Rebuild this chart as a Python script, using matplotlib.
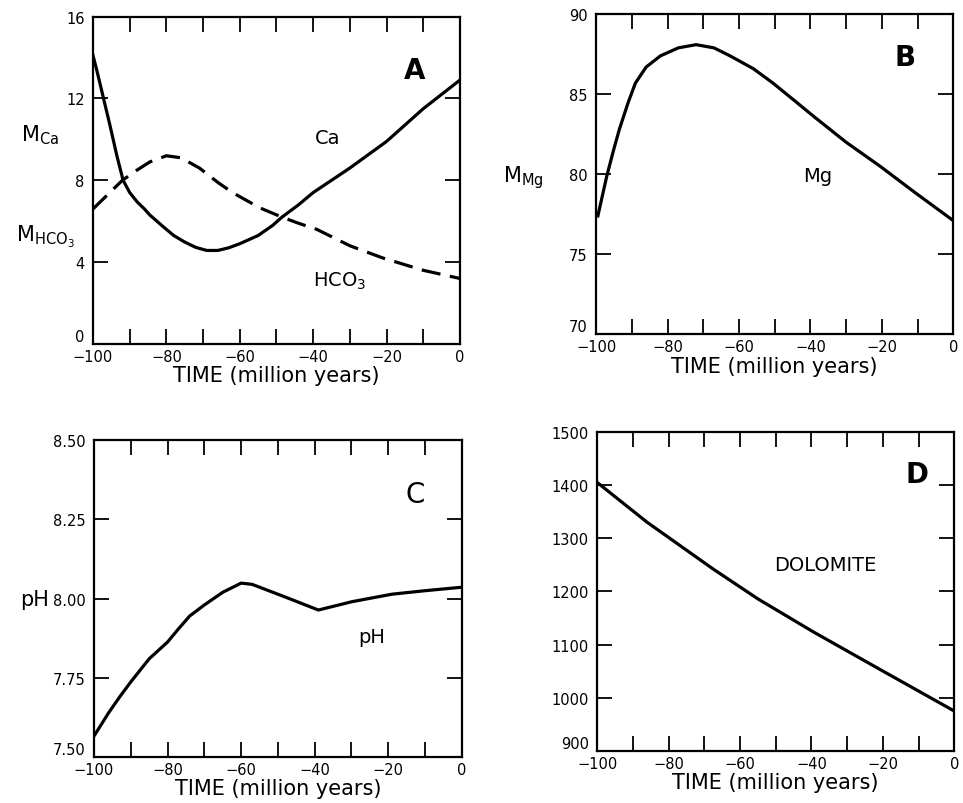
import matplotlib
matplotlib.use("Agg")
import matplotlib.pyplot as plt
from matplotlib.ticker import MultipleLocator, FuncFormatter
from matplotlib.transforms import ScaledTranslation

# panel A: Ca and HCO3 (solid / dashed)
ca_t = [-100, -99, -98, -97, -95.4, -93.5, -91.8, -90, -88, -86, -84.5, -81, -78, -75, -72, -69, -66, -63, -60, -55, -51, -48.5, -44, -40, -30, -20, -10, 0]
ca_v = [14.1, 13.4, 12.65, 11.9, 10.7, 9.2, 8.0, 7.4, 6.95, 6.6, 6.3, 5.75, 5.3, 4.98, 4.72, 4.57, 4.57, 4.7, 4.9, 5.3, 5.8, 6.2, 6.8, 7.4, 8.6, 9.9, 11.5, 12.9]
hco3_t = [-100, -96, -92, -88, -84.5, -80, -76, -71, -66, -62, -58, -54.5, -48.5, -44, -39, -30, -21, -10, 0]
hco3_v = [6.6, 7.3, 8.0, 8.5, 8.9, 9.2, 9.1, 8.6, 7.9, 7.4, 7.0, 6.65, 6.2, 5.9, 5.6, 4.8, 4.2, 3.6, 3.2]

# panel B: Mg
mg_t = [-99.5, -98, -97, -95, -93.5, -91, -89, -86, -82, -77, -72, -67, -62.5, -56, -50.5, -45, -39, -30, -20.5, -11, 0]
mg_v = [77.4, 78.9, 79.9, 81.6, 82.8, 84.5, 85.7, 86.7, 87.4, 87.9, 88.1, 87.9, 87.4, 86.6, 85.7, 84.7, 83.6, 82.0, 80.5, 78.9, 77.1]

# panel C: pH
ph_t = [-100, -96, -93, -90, -85, -80, -77, -74, -70, -65, -60, -57, -48, -39, -30, -19, -10, 0]
ph_v = [7.566, 7.64, 7.69, 7.737, 7.81, 7.863, 7.905, 7.945, 7.98, 8.02, 8.049, 8.045, 8.005, 7.964, 7.99, 8.014, 8.025, 8.036]

# panel D: dolomite
dol_t = [-100, -86, -67.5, -55, -39.5, -21, 0]
dol_v = [1405, 1330, 1242, 1186, 1124, 1054, 975]


def xfmt(v, pos):
    v = int(round(v))
    if v % 20 != 0:
        return ""
    return "0" if v == 0 else "\u2212%d" % abs(v)


def style_axes(fig, ax, ylim, yticks, ylabels):
    ax.set_xlim(-100, 0)
    ax.set_ylim(*ylim)
    ax.xaxis.set_major_locator(MultipleLocator(10))
    ax.xaxis.set_major_formatter(FuncFormatter(xfmt))
    ax.set_yticks(yticks)
    ax.set_yticklabels(ylabels)
    ax.tick_params(direction="in", length=11, width=1.3, top=True, right=True,
                   labelsize=10.5)
    ax.tick_params(axis="y", pad=6)
    for sp in ax.spines.values():
        sp.set_linewidth(1.6)
    ax.set_xlabel("TIME (million years)", fontsize=15, labelpad=1)
    # corner labels: lift the lowest y label, nudge the -100 label right
    ax.get_yticklabels()[0].set_va("bottom")
    lab = ax.get_xticklabels()[0]
    lab.set_transform(lab.get_transform() + ScaledTranslation(4 / 72, -1 / 72, fig.dpi_scale_trans))


plt.rcParams["font.family"] = ["DejaVu Sans"]
fig = plt.figure(figsize=(9.63, 8.04), dpi=100)

axA = fig.add_axes([0.0966, 0.571, 0.381, 0.407])
axB = fig.add_axes([0.619, 0.583, 0.371, 0.398])
axC = fig.add_axes([0.0976, 0.0572, 0.382, 0.394])
axD = fig.add_axes([0.620, 0.0647, 0.371, 0.397])

lw = 2.3

# A
axA.plot(ca_t, ca_v, color="black", lw=lw)
axA.plot(hco3_t, hco3_v, color="black", lw=lw, dashes=(6, 3))
style_axes(fig, axA, (0, 16), [0, 4, 8, 12, 16], ["0", "4", "8", "12", "16"])
axA.text(-12.3, 13.4, "A", fontsize=20, fontweight="bold", ha="center", va="center")
axA.text(-36, 10.1, "Ca", fontsize=14, ha="center", va="center")
axA.text(-32.7, 3.1, r"HCO$_3$", fontsize=14, ha="center", va="center")
fig.text(0.042, 0.832, r"M$_{\mathrm{Ca}}$", fontsize=15, ha="center", va="center")
fig.text(0.047, 0.705, r"M$_{\mathrm{HCO_3}}$", fontsize=15, ha="center", va="center")

# B
axB.plot(mg_t, mg_v, color="black", lw=lw)
style_axes(fig, axB, (70, 90), [70, 75, 80, 85, 90], ["70", "75", "80", "85", "90"])
axB.text(-13.5, 87.3, "B", fontsize=20, fontweight="bold", ha="center", va="center")
axB.text(-38, 79.9, "Mg", fontsize=14, ha="center", va="center")
fig.text(0.543, 0.779, r"M$_{\mathrm{Mg}}$", fontsize=15, ha="center", va="center")

# C
axC.plot(ph_t, ph_v, color="black", lw=lw)
style_axes(fig, axC, (7.5, 8.5), [7.5, 7.75, 8.0, 8.25, 8.5],
           ["7.50", "7.75", "8.00", "8.25", "8.50"])
axC.text(-12.8, 8.33, "C", fontsize=20, ha="center", va="center")
axC.text(-24.6, 7.88, "pH", fontsize=14, ha="center", va="center")
fig.text(0.036, 0.254, "pH", fontsize=15, ha="center", va="center")

# D
axD.plot(dol_t, dol_v, color="black", lw=lw)
style_axes(fig, axD, (900, 1500), [900, 1000, 1100, 1200, 1300, 1400, 1500],
           ["900", "1000", "1100", "1200", "1300", "1400", "1500"])
axD.text(-10.4, 1420, "D", fontsize=20, fontweight="bold", ha="center", va="center")
axD.text(-36, 1251, "DOLOMITE", fontsize=14, ha="center", va="center")

fig.savefig("out.png", dpi=100)
